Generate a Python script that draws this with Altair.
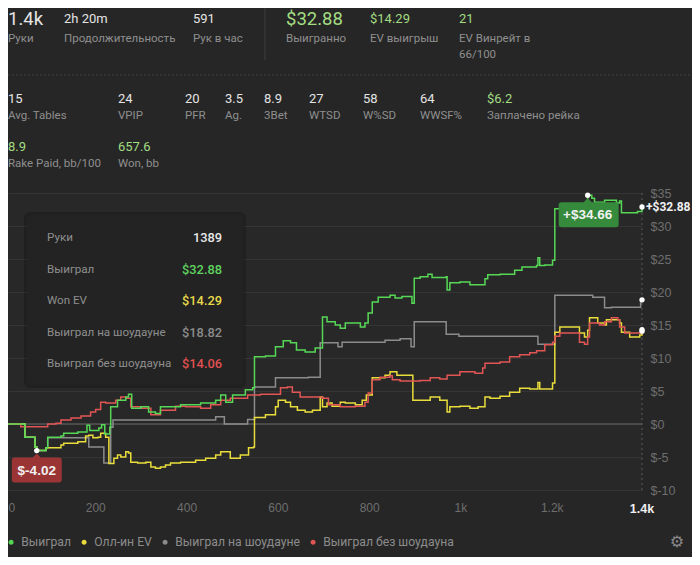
import altair as alt
import pandas as pd

# ---------------- data ----------------
SERIES = ["Выиграл", "Олл-ин EV", "Выиграл на шоудауне", "Выиграл без шоудауна"]
LINE_COLORS = ["#56d856", "#e9dd3c", "#8c8c8c", "#e25555"]

green_h = [0, 37, 59, 63, 83, 87, 116, 122, 153, 173, 179, 199, 205, 212, 223, 225, 240, 258, 264, 271,
           291, 308, 323, 334, 378, 422, 455, 466, 477, 492, 520, 536, 540, 564, 586, 603, 619, 632, 651,
           673, 689, 699, 717, 728, 739, 772, 782, 789, 798, 811, 837, 848, 863, 885, 890, 903, 920, 929,
           946, 960, 962, 968, 990, 1012, 1034, 1045, 1051, 1078, 1110, 1126, 1158, 1161, 1165, 1176,
           1193, 1198, 1213, 1270, 1279, 1285, 1307, 1333, 1340, 1344, 1362, 1379, 1389]
green_v = [0, -2.0, -3.5, -4.02, -3.6, -2.0, -1.8, -1.4, -1.2, -0.2, -1.0, -0.6, -0.1, -1.5, -0.5, 2.6,
           3.6, 4.1, 4.5, 2.4, 2.6, 1.8, 1.6, 2.6, 2.9, 3.2, 3.6, 4.4, 3.3, 4.4, 5.2, 5.5, 10.2, 10.3, 11.7,
           12.6, 12.3, 11.2, 10.9, 11.5, 16.2, 15.5, 15.0, 14.5, 15.3, 14.7, 15.3, 16.8, 18.5, 19.2, 19.5,
           19.1, 19.3, 18.3, 22.1, 22.3, 22.7, 22.2, 22.2, 22.3, 20.3, 21.4, 21.5, 21.1, 21.1, 22.0, 22.6,
           22.7, 23.3, 23.8, 24.0, 25.2, 24.0, 24.1, 24.8, 32.6, 33.2, 34.66, 34.2, 33.6, 33.9, 33.5, 33.8,
           32.0, 32.0, 32.2, 32.88]

yellow_h = [0, 37, 59, 63, 83, 116, 122, 153, 170, 177, 186, 197, 203, 214, 221, 232, 240, 247, 258, 264,
            269, 284, 302, 313, 323, 334, 345, 356, 378, 411, 433, 455, 466, 487, 509, 527, 538, 540, 564,
            586, 592, 608, 619, 634, 651, 667, 684, 689, 699, 710, 728, 739, 761, 776, 785, 798, 826, 837,
            852, 885, 887, 925, 946, 962, 968, 990, 1012, 1030, 1045, 1056, 1078, 1099, 1121, 1143, 1161,
            1165, 1193, 1198, 1209, 1241, 1252, 1263, 1270, 1274, 1292, 1307, 1311, 1340, 1344, 1362,
            1384, 1389]
yellow_v = [0, -2.0, -3.5, -4.02, -3.6, -3.2, -2.9, -2.7, -1.8, -1.7, -2.1, -2.0, -1.4, -2.0, -6.0, -5.2,
            -4.7, -5.0, -4.2, -4.4, -5.8, -5.9, -5.8, -6.5, -6.7, -6.5, -6.2, -5.9, -5.8, -5.5, -5.2, -4.7,
            -4.2, -5.2, -4.7, -3.6, -3.5, 1.0, 1.4, 2.6, 3.6, 3.3, 2.6, 2.1, 1.8, 2.1, 4.1, 2.6, 3.2, 2.7,
            3.3, 3.2, 2.9, 3.6, 4.4, 7.0, 7.4, 7.9, 7.4, 7.4, 3.6, 4.1, 3.6, 1.8, 2.6, 2.7, 2.4, 2.6, 4.1,
            3.9, 4.2, 4.8, 5.4, 5.3, 6.3, 5.3, 6.2, 13.9, 14.7, 14.7, 13.8, 13.2, 14.2, 16.1, 15.3, 15.0,
            15.8, 15.3, 13.9, 13.2, 13.5, 14.29]

gray_h = [0, 37, 59, 63, 83, 87, 177, 210, 225, 230, 455, 474, 525, 540, 586, 658, 684, 723, 732, 826,
          859, 883, 890, 960, 988, 1161, 1198, 1281, 1307, 1322, 1386, 1389]
gray_v = [0, -2.0, -3.5, -4.02, -3.6, -2.1, -3.5, -5.9, -0.5, 0.6, 1.1, 0.0, 0.7, 5.6, 7.0, 7.1, 12.3,
          11.7, 12.4, 12.7, 12.9, 11.7, 15.5, 13.6, 13.3, 12.1, 19.5, 19.2, 17.6, 17.7, 18.82, 18.82]

red_h = [0, 28, 87, 105, 116, 138, 160, 181, 192, 203, 214, 236, 247, 258, 269, 291, 313, 334, 367, 389,
         422, 444, 466, 487, 525, 553, 597, 612, 623, 640, 689, 702, 728, 761, 782, 789, 798, 815, 837,
         842, 859, 903, 925, 946, 962, 990, 1023, 1040, 1045, 1078, 1099, 1121, 1143, 1158, 1176, 1193,
         1198, 1209, 1241, 1252, 1263, 1270, 1274, 1296, 1307, 1322, 1336, 1340, 1351, 1373, 1389]
red_v = [0, -0.4, 0.0, 0.1, 0.6, 0.9, 1.2, 1.8, 2.2, 3.3, 3.2, 3.6, 4.1, 3.9, 2.6, 2.4, 1.4, 2.1, 2.7,
         2.6, 2.4, 2.9, 3.6, 3.9, 4.4, 4.5, 5.5, 5.6, 4.8, 4.1, 3.9, 2.9, 2.6, 2.7, 3.3, 4.7, 6.7, 7.1,
         7.3, 6.7, 6.5, 6.6, 7.0, 6.8, 7.4, 7.9, 7.7, 8.5, 9.2, 9.4, 10.2, 10.5, 10.8, 11.1, 12.0, 12.4,
         13.3, 13.8, 13.8, 12.4, 12.1, 13.2, 15.3, 15.0, 15.5, 16.1, 15.8, 14.7, 13.8, 13.8, 14.06]

x_ticks = [0, 200, 400, 600, 800, 1000, 1200]
y_ticks = [-10, -5, 0, 5, 10, 15, 20, 25, 30, 35]

# header statistics
big_values = ["1.4k", "$32.88"]
small_values = ["2h 20m", "591", "$14.29", "21", "15", "24", "20", "3.5", "8.9", "27", "58", "64",
                "$6.2", "8.9", "657.6"]
small_is_green = [False, False, True, True, False, False, False, False, False, False, False, False,
                  True, True, True]
stat_labels = ["Руки", "Продолжительность", "Рук в час", "Выигранно", "EV выигрыш", "EV Винрейт в",
               "66/100", "Avg. Tables", "VPIP", "PFR", "Ag.", "3Bet", "WTSD", "W%SD", "WWSF%",
               "Заплачено рейка", "Rake Paid, bb/100", "Won, bb"]
tooltip_labels = ["Руки", "Выиграл", "Won EV", "Выиграл на шоудауне", "Выиграл без шоудауна"]

# ---------------- layout (page pixel positions of text) ----------------
big_px = [8, 286]
big_py = [19, 19]
small_px = [64, 193, 370, 459, 8, 118, 185, 225, 264, 309, 363, 420, 487, 8, 118]
small_py = [19, 19, 19, 19, 99, 99, 99, 99, 99, 99, 99, 99, 99, 147, 147]
label_px = [8, 64, 193, 286, 370, 459, 459, 8, 118, 185, 225, 264, 309, 363, 420, 487, 8, 118]
label_py = [38.5, 38.5, 38.5, 38.5, 38.5, 38.5, 55, 116, 116, 116, 116, 116, 116, 116, 116, 116, 164, 164]
tt_py = [238, 270, 301, 333, 364]

PLOT_LEFT, PLOT_TOP = 8, 193      # page position of the plot's origin
W, H = 634, 297

BG = "#262626"
WHITE = "#e4e4e4"
LABEL_GRAY = "#8f8f8f"
STAT_GREEN = "#a3dc82"
FONT = "Roboto"
AXIS_FONT = "Liberation Sans"

# ---------------- tables ----------------
rows = []
for name, hs, vs in zip(SERIES, [green_h, yellow_h, gray_h, red_h], [green_v, yellow_v, gray_v, red_v]):
    for h, v in zip(hs, vs):
        rows.append({"hands": h, "won": v, "series": name})
lines_df = pd.DataFrame(rows)

ends_df = pd.DataFrame({"hands": [green_h[-1], yellow_h[-1], gray_h[-1], red_h[-1]],
                        "won": [green_v[-1], yellow_v[-1], gray_v[-1], red_v[-1]]})
imin = green_v.index(min(green_v))
imax = green_v.index(max(green_v))
min_df = pd.DataFrame({"hands": [green_h[imin]], "won": [green_v[imin]],
                       "label": ["$%.2f" % green_v[imin]]})
max_df = pd.DataFrame({"hands": [green_h[imax]], "won": [green_v[imax]],
                       "label": ["+$%.2f" % green_v[imax]]})
last_df = pd.DataFrame({"hands": [green_h[-1]], "won": [green_v[-1]],
                        "label": ["+$%.2f" % green_v[-1]]})
cursor_df = pd.DataFrame({"hands": [green_h[-1]],
                          "label": ["%.1fk" % (green_h[-1] / 1000)]})
zero_df = pd.DataFrame({"won": [0]})

tt_values = [str(green_h[-1]), "$%.2f" % green_v[-1], "$%.2f" % yellow_v[-1],
             "$%.2f" % gray_v[-1], "$%.2f" % red_v[-1]]
tt_colors = ["#e8e8e8", "#5fd35f", "#e6d94a", "#8c8c8c", "#e05050"]

tt_df = pd.DataFrame({"label": tooltip_labels, "value": tt_values, "col": tt_colors,
                      "y": [p - PLOT_TOP for p in tt_py]})
big_df = pd.DataFrame({"t": big_values, "x": [p - PLOT_LEFT for p in big_px],
                       "y": [p - PLOT_TOP for p in big_py], "col": [WHITE, STAT_GREEN]})
small_df = pd.DataFrame({"t": small_values, "x": [p - PLOT_LEFT for p in small_px],
                         "y": [p - PLOT_TOP for p in small_py],
                         "col": [STAT_GREEN if g else WHITE for g in small_is_green]})
label_df = pd.DataFrame({"t": stat_labels, "x": [p - PLOT_LEFT for p in label_px],
                         "y": [p - PLOT_TOP for p in label_py]})
one = pd.DataFrame({"a": [0]})

# ---------------- encodings ----------------
x_scale = alt.Scale(domain=[0, green_h[-1]], nice=False, zero=False)
y_scale = alt.Scale(domain=[-10, 35], nice=False, zero=False)

X = alt.X("hands:Q", scale=x_scale, title=None,
          axis=alt.Axis(values=x_ticks, domain=False, ticks=False, grid=False,
                        labelExpr="datum.value >= 1000 ? (datum.value / 1000) + 'k' : datum.label",
                        labelColor="#6e6e6e", labelFont=AXIS_FONT, labelFontSize=12,
                        labelPadding=12, labelFlush=True, labelOverlap=False,
                        labelOffset={"condition": {"test": "datum.value == 0", "value": 0},
                                     "value": -4}))
Y = alt.Y("won:Q", scale=y_scale, title=None,
          axis=alt.Axis(orient="right", values=y_ticks, domain=False, ticks=False, grid=True,
                        gridColor="#353535", gridWidth=1,
                        labelExpr="'$' + datum.value", labelColor="#6e6e6e",
                        labelFont=AXIS_FONT, labelFontSize=12.5, labelPadding=8,
                        labelFlush=False, labelOverlap=False))
COLOR = alt.Color("series:N", scale=alt.Scale(domain=SERIES, range=LINE_COLORS),
                  legend=alt.Legend(title=None, orient="none", legendX=-3, legendY=343,
                                    direction="horizontal", symbolType="circle", symbolSize=6,
                                    symbolStrokeWidth=2.6, labelColor="#8c8c8c", labelFont=FONT,
                                    labelFontSize=12.2, labelOffset=4, columnPadding=6, padding=0))

layers = []

# grid emphasis and cursor
layers.append(alt.Chart(zero_df).mark_rule(color="#555555", strokeWidth=1.3).encode(y=Y))
layers.append(alt.Chart(cursor_df).mark_rule(color="#5a5a5a", strokeDash=[2, 3]).encode(x=X))

# series lines (draw order: gray, yellow, red, green)
for name in [SERIES[2], SERIES[1], SERIES[3], SERIES[0]]:
    layers.append(
        alt.Chart(lines_df).transform_filter(alt.datum.series == name)
        .mark_line(interpolate="step-after", strokeWidth=1.5)
        .encode(x=X, y=Y, color=COLOR)
    )

# tooltip panel
layers.append(alt.Chart(one).mark_rect(fill="#000000", opacity=0.18, cornerRadius=6).encode(
    x=alt.value(16), x2=alt.value(238), y=alt.value(19), y2=alt.value(195)))
layers.append(alt.Chart(one).mark_rect(fill="#232323", cornerRadius=4).encode(
    x=alt.value(19), x2=alt.value(235), y=alt.value(22), y2=alt.value(192)))
layers.append(alt.Chart(tt_df).mark_text(align="left", baseline="middle", font=FONT, fontSize=11.6,
                                         color=LABEL_GRAY).encode(
    x=alt.value(39), y=alt.Y("y:Q", scale=None), text="label:N"))
layers.append(alt.Chart(tt_df).mark_text(align="right", baseline="middle", font=FONT, fontSize=12.8,
                                         fontWeight=500).encode(
    x=alt.value(214), y=alt.Y("y:Q", scale=None), text="value:N",
    color=alt.Color("col:N", scale=None)))

# annotation boxes (min / max)
RED_BOX = ("M-0.92,0.29H-0.17L0,0.125L0.17,0.29H0.92Q1.04,0.29 1.04,0.41V1.21Q1.04,1.33 0.92,1.33"
           "H-0.92Q-1.04,1.33 -1.04,1.21V0.41Q-1.04,0.29 -0.92,0.29Z")
GREEN_BOX = ("M-1.09,0.29H-0.17L0,0.125L0.17,0.29H1.17Q1.29,0.29 1.29,0.41V1.21Q1.29,1.33 1.17,1.33"
             "H-1.09Q-1.21,1.33 -1.21,1.21V0.41Q-1.21,0.29 -1.09,0.29Z")
layers.append(alt.Chart(min_df).mark_point(shape=RED_BOX, size=2304, filled=True, opacity=1,
                                           color="#9b3535").encode(x=X, y=Y))
layers.append(alt.Chart(max_df).mark_point(shape=GREEN_BOX, size=2304, filled=True, opacity=1,
                                           color="#358a3b").encode(x=X, y=Y))
for d in (min_df, max_df):
    layers.append(alt.Chart(d).mark_text(dy=20, font=AXIS_FONT, fontSize=13.5, fontWeight="bold",
                                         color="#f2f2f2", baseline="middle").encode(
        x=X, y=Y, text="label:N"))
    layers.append(alt.Chart(d).mark_circle(size=28, color="#ffffff", opacity=1).encode(x=X, y=Y))

# end points and labels
layers.append(alt.Chart(ends_df).mark_circle(size=28, color="#ffffff", opacity=1).encode(x=X, y=Y))
layers.append(alt.Chart(last_df).mark_text(align="left", baseline="middle", dx=4, font=FONT,
                                           fontSize=12, fontWeight="bold", color="#f0f0f0").encode(
    x=X, y=Y, text="label:N"))
layers.append(alt.Chart(cursor_df).mark_text(baseline="middle", font=AXIS_FONT, fontSize=12.5,
                                             fontWeight="bold", color="#f0f0f0").encode(
    x=X, y=alt.value(H + 19), text="label:N"))

# header statistics
layers.append(alt.Chart(big_df).mark_text(align="left", baseline="middle", font=FONT,
                                          fontSize=18.5).encode(
    x=alt.X("x:Q", scale=None), y=alt.Y("y:Q", scale=None), text="t:N",
    color=alt.Color("col:N", scale=None)))
layers.append(alt.Chart(small_df).mark_text(align="left", baseline="middle", font=FONT,
                                            fontSize=13).encode(
    x=alt.X("x:Q", scale=None), y=alt.Y("y:Q", scale=None), text="t:N",
    color=alt.Color("col:N", scale=None)))
layers.append(alt.Chart(label_df).mark_text(align="left", baseline="middle", font=FONT,
                                            fontSize=11.5, color=LABEL_GRAY).encode(
    x=alt.X("x:Q", scale=None), y=alt.Y("y:Q", scale=None), text="t:N"))
layers.append(alt.Chart(one).mark_rule(color="#3c3c3c").encode(
    x=alt.value(265 - PLOT_LEFT), y=alt.value(0 - PLOT_TOP), y2=alt.value(60 - PLOT_TOP)))
layers.append(alt.Chart(one).mark_rule(color="#404040", strokeDash=[2, 2]).encode(
    x=alt.value(0), x2=alt.value(684), y=alt.value(75 - PLOT_TOP)))

# settings gear
layers.append(alt.Chart(one).mark_text(text="⚙", font="DejaVu Sans", fontSize=16,
                                       color="#8a8a8a", baseline="middle").encode(
    x=alt.value(677 - PLOT_LEFT), y=alt.value(542 - PLOT_TOP)))

chart = (
    alt.layer(*layers)
    .properties(width=W, height=H,
                padding={"left": 0, "top": PLOT_TOP - 8, "right": 684 - W,
                         "bottom": 549 - (PLOT_TOP - 8) - H},
                autosize=alt.AutoSizeParams(type="none"))
    .configure(background=BG)
    .configure_view(stroke=None, fill="#282828")
)

chart.save("out.html", embed_options={"renderer": "svg", "actions": False})
